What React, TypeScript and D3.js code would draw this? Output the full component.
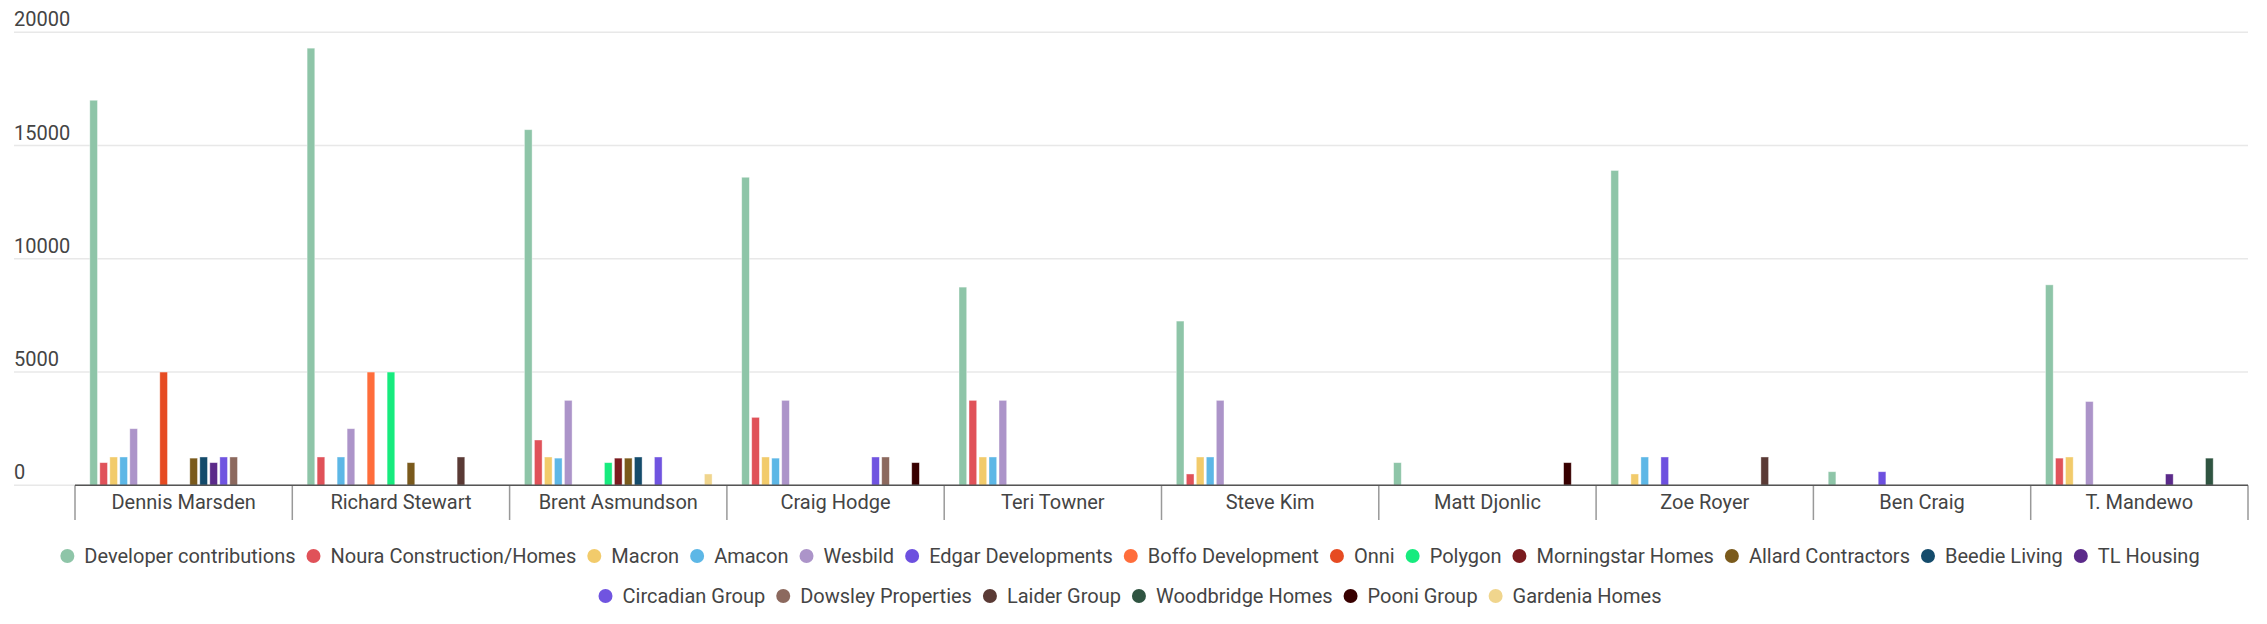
import { useEffect, useRef } from 'react'
import * as d3 from 'd3'

const categories = [
  'Dennis Marsden', 'Richard Stewart', 'Brent Asmundson', 'Craig Hodge', 'Teri Towner',
  'Steve Kim', 'Matt Djonlic', 'Zoe Royer', 'Ben Craig', 'T. Mandewo',
]

const seriesNames = [
  'Developer contributions', 'Noura Construction/Homes', 'Macron', 'Amacon', 'Wesbild',
  'Edgar Developments', 'Boffo Development', 'Onni', 'Polygon', 'Morningstar Homes',
  'Allard Contractors', 'Beedie Living', 'TL Housing', 'Circadian Group', 'Dowsley Properties',
  'Laider Group', 'Woodbridge Homes', 'Pooni Group', 'Gardenia Homes',
]

const seriesColors = [
  '#8ec5a8', '#e05259', '#f2cb6b', '#5db7e6', '#ac94c9',
  '#6d50df', '#ff6d3b', '#e64b22', '#17eb7e', '#7a1b1f',
  '#7a5a1c', '#144b6b', '#5b2a8a', '#7054e0', '#8c695e',
  '#5a3a35', '#2f5441', '#380000', '#f0d58d',
]

// one array per series, in category order
const developer = [17000, 19300, 15700, 13600, 8750, 7250, 1000, 13900, 600, 8850]
const noura = [1000, 1250, 2000, 3000, 3750, 500, 0, 0, 0, 1200]
const macron = [1250, 0, 1250, 1250, 1250, 1250, 0, 500, 0, 1250]
const amacon = [1250, 1250, 1200, 1200, 1250, 1250, 0, 1250, 0, 0]
const wesbild = [2500, 2500, 3750, 3750, 3750, 3750, 0, 0, 0, 3700]
const edgar = [0, 0, 0, 0, 0, 0, 0, 1250, 600, 0]
const boffo = [0, 5000, 0, 0, 0, 0, 0, 0, 0, 0]
const onni = [5000, 0, 0, 0, 0, 0, 0, 0, 0, 0]
const polygon = [0, 5000, 1000, 0, 0, 0, 0, 0, 0, 0]
const morningstar = [0, 0, 1200, 0, 0, 0, 0, 0, 0, 0]
const allard = [1200, 1000, 1200, 0, 0, 0, 0, 0, 0, 0]
const beedie = [1250, 0, 1250, 0, 0, 0, 0, 0, 0, 0]
const tlHousing = [1000, 0, 0, 0, 0, 0, 0, 0, 0, 500]
const circadian = [1250, 0, 1250, 1250, 0, 0, 0, 0, 0, 0]
const dowsley = [1250, 0, 0, 1250, 0, 0, 0, 0, 0, 0]
const laider = [0, 1250, 0, 0, 0, 0, 0, 1250, 0, 0]
const woodbridge = [0, 0, 0, 0, 0, 0, 0, 0, 0, 1200]
const pooni = [0, 0, 0, 1000, 0, 0, 1000, 0, 0, 0]
const gardenia = [0, 0, 500, 0, 0, 0, 0, 0, 0, 0]

const seriesValues = [
  developer, noura, macron, amacon, wesbild, edgar, boffo, onni, polygon, morningstar,
  allard, beedie, tlHousing, circadian, dowsley, laider, woodbridge, pooni, gardenia,
]

const yTicks = [0, 5000, 10000, 15000, 20000]
const legendRows = [[0, 12], [13, 18]]

const App = () => {
  const svgRef = useRef<SVGSVGElement>(null)

  useEffect(() => {
    if (!svgRef.current) return
    const width = 2267
    const height = 624
    const font = 'Roboto, sans-serif'
    const textColor = '#444'

    const svg = d3.select(svgRef.current)
    svg.selectAll('*').remove()
    svg.attr('width', width).attr('height', height)

    const x0 = d3.scaleBand<string>().domain(categories).range([75, 2248]).padding(0)
    const x1 = d3.scaleBand<number>()
      .domain(d3.range(seriesNames.length))
      .range([0, x0.bandwidth()])
      .paddingInner(0.23)
      .paddingOuter(1.48)
    const y = d3.scaleLinear().domain([0, 20000]).range([485.3, 32.3])

    // gridlines + y labels
    const grid = svg.append('g')
    grid.selectAll('line')
      .data(yTicks)
      .enter().append('line')
      .attr('x1', 14)
      .attr('x2', 2248)
      .attr('y1', d => y(d))
      .attr('y2', d => y(d))
      .style('stroke', '#e8e8e8')
      .style('stroke-width', '1.5px')
    grid.selectAll('text')
      .data(yTicks)
      .enter().append('text')
      .attr('x', 14)
      .attr('y', d => y(d) - 6)
      .style('font-family', font)
      .style('font-size', '20px')
      .style('fill', textColor)
      .text(d => d3.format('d')(d))

    // bars
    const groups = svg.append('g').selectAll('g')
      .data(categories)
      .enter().append('g')
      .attr('transform', d => `translate(${x0(d)},0)`)

    groups.selectAll('rect')
      .data((_, ci) => seriesValues.map((vals, si) => ({ si, v: vals[ci] })).filter(d => d.v > 0))
      .enter().append('rect')
      .attr('x', d => x1(d.si)!)
      .attr('width', x1.bandwidth())
      .attr('y', d => y(d.v))
      .attr('height', d => y(0) - y(d.v))
      .style('fill', d => seriesColors[d.si])
      .style('stroke', 'rgba(255,255,255,0.5)')
      .style('stroke-width', '0.8px')

    // x axis
    const axis = svg.append('g')
    const bounds = categories.map(c => x0(c)!).concat([x0.range()[1]])
    axis.selectAll('line.tick')
      .data(bounds)
      .enter().append('line')
      .attr('class', 'tick')
      .attr('x1', d => d)
      .attr('x2', d => d)
      .attr('y1', y(0))
      .attr('y2', 520)
      .style('stroke', '#999')
      .style('stroke-width', '1.5px')
    axis.append('line')
      .attr('x1', 75)
      .attr('x2', 2248)
      .attr('y1', y(0))
      .attr('y2', y(0))
      .style('stroke', '#555')
      .style('stroke-width', '1.5px')
    axis.selectAll('text')
      .data(categories)
      .enter().append('text')
      .attr('x', d => x0(d)! + x0.bandwidth() / 2)
      .attr('y', 509)
      .style('text-anchor', 'middle')
      .style('font-family', font)
      .style('font-size', '20px')
      .style('fill', textColor)
      .text(d => d)

    // legend, rows centred on the page
    const legendY = [556, 596]
    legendRows.forEach(([from, to], ri) => {
      const row = svg.append('g')
      let cx = 0
      for (let i = from; i <= to; i++) {
        const item = row.append('g').attr('transform', `translate(${cx},0)`)
        item.append('circle')
          .attr('cx', 7)
          .attr('cy', legendY[ri])
          .attr('r', 7)
          .style('fill', seriesColors[i])
        const t = item.append('text')
          .attr('x', 24)
          .attr('y', legendY[ri] + 7)
          .style('font-family', font)
          .style('font-size', '20px')
          .style('fill', textColor)
          .text(seriesNames[i])
        const w = (t.node() as SVGTextElement).getComputedTextLength()
        cx += 24 + w + (i < to ? 11 : 0)
      }
      row.attr('transform', `translate(${1130 - cx / 2},0)`)
    })
  }, [])

  return (
    <svg
      ref={svgRef}
      style={{ position: 'absolute', left: 0, top: 0, display: 'block' }}
    ></svg>
  )
}

export default App
